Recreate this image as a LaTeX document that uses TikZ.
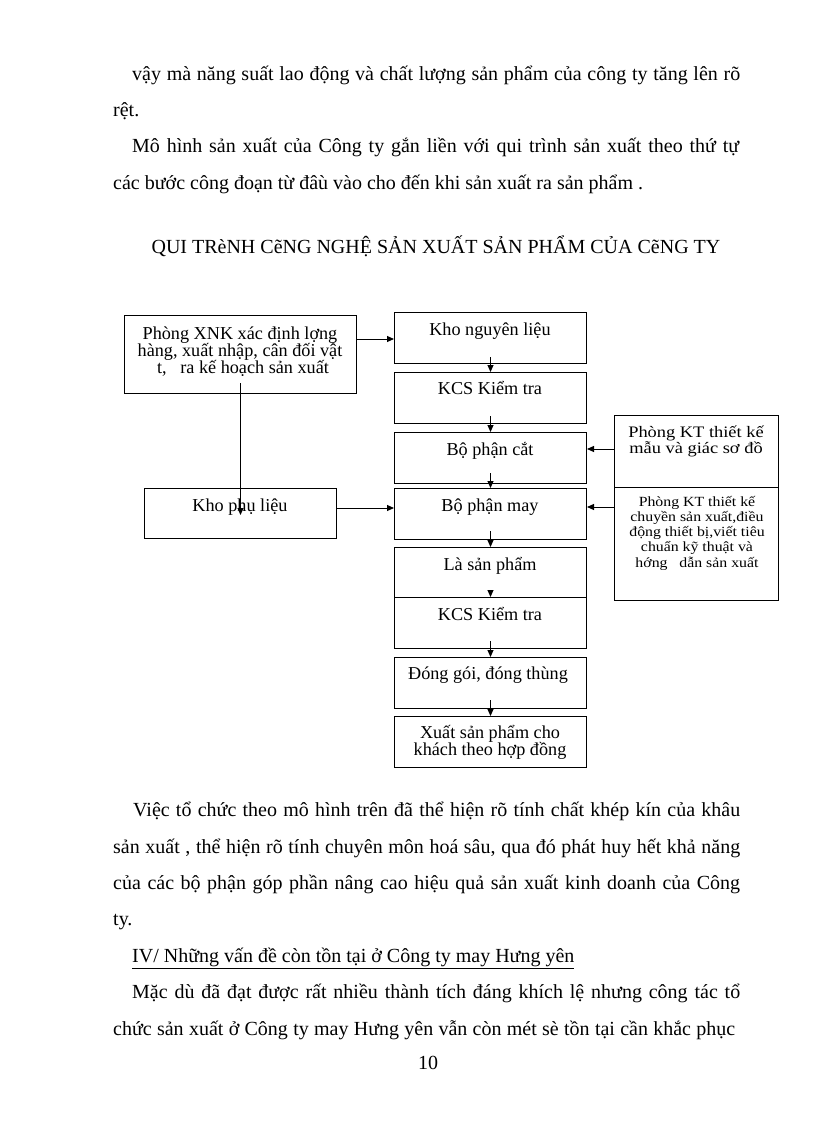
\documentclass[tikz,border=0pt]{standalone}
\usepackage{fontspec}
\setmainfont{Liberation Serif}
\newfontfamily\vnstretchA[FakeStretch=1.15]{Liberation Serif}
\newfontfamily\vnstretchB[FakeStretch=1.13]{Liberation Serif}
\usetikzlibrary{arrows.meta}
\newcommand{\bodyfont}{\fontsize{20}{20}\selectfont}
\newcommand{\diafont}{\fontsize{18.2}{18.2}\selectfont}
\newcommand{\ktafont}{\vnstretchA\fontsize{16}{16}\selectfont}
\newcommand{\ktbfont}{\vnstretchB\fontsize{14}{14}\selectfont}
\tikzset{
  box/.style={draw=black, line width=1pt, inner sep=0pt, anchor=north west},
  dtxt/.style={inner sep=0pt, anchor=base, font=\diafont},
  katxt/.style={inner sep=0pt, anchor=base, font=\ktafont},
  kbtxt/.style={inner sep=0pt, anchor=base, font=\ktbfont},
  body/.style={inner sep=0pt, anchor=base west, font=\bodyfont},
  arr/.style={line width=1pt, -{Triangle[length=7pt,width=6pt]}},
}
\begin{document}
\begin{tikzpicture}[x=1pt,y=-1pt]
\useasboundingbox (0,0) rectangle (816,1123);
\fill[white] (0,0) rectangle (816,1123);

% ---- top text ----
\node[body] (p1) at (132,81) {\makebox[608pt][s]{vậy mà năng suất lao động và chất lượng sản phẩm của công ty tăng lên rõ}};
\node[body] (p2) at (113,117) {rệt.};
\node[body] (p3) at (132,153) {\makebox[607pt][s]{Mô hình sản xuất của Công ty gắn liền với qui trình sản xuất theo thứ tự}};
\node[body] (p4) at (113,190) {các bước công đoạn từ đâù vào cho đến khi sản xuất ra sản phẩm .};
\node[inner sep=0pt, anchor=base, font=\bodyfont] (title) at (436,253) {QUI TRèNH CẽNG NGHỆ SẢN XUẤT SẢN PHẨM CỦA CẽNG TY};

% ---- boxes ----
\node[box, minimum width=232pt, minimum height=78pt] (xnk) at (124,315) {};
\node[box, minimum width=192pt, minimum height=51pt] (nl) at (394,312) {};
\node[box, minimum width=192pt, minimum height=51pt] (kcsa) at (394,372) {};
\node[box, minimum width=192pt, minimum height=51pt] (cat) at (394,432) {};
\node[box, minimum width=192pt, minimum height=51pt] (may) at (394,488) {};
\node[box, minimum width=192pt, minimum height=50pt] (kpl) at (144,488) {};
\node[box, minimum width=192pt, minimum height=50pt] (lsp) at (394,547) {};
\node[box, minimum width=192pt, minimum height=51pt] (kcsb) at (394,597) {};
\node[box, minimum width=192pt, minimum height=51pt] (dg) at (394,657) {};
\node[box, minimum width=192pt, minimum height=51pt] (xsp) at (394,716) {};
\node[box, minimum width=164pt, minimum height=72pt] (ktm) at (614,415) {};
\node[box, minimum width=164pt, minimum height=113pt] (ktc) at (614,487) {};

% ---- box texts ----
\node[dtxt] (xnk1) at (240,339) {Phòng XNK xác định lợng};
\node[dtxt] (xnk2) at (240,356) {hàng, xuất nhập, cân đối vật};
\node[dtxt] (xnk3) at (243,373) {t,\ \ \ ra kế hoạch sản xuất};
\node[dtxt] (nlt) at (490,335) {Kho nguyên liệu};
\node[dtxt] (kcsat) at (490,394) {KCS Kiểm tra};
\node[dtxt] (catt) at (490,455) {Bộ phận cắt};
\node[dtxt] (mayt) at (490,511) {Bộ phận may};
\node[dtxt] (kplt) at (240,511) {Kho phụ liệu};
\node[dtxt] (lspt) at (490,570) {Là sản phẩm};
\node[dtxt] (kcsbt) at (490,620) {KCS Kiểm tra};
\node[dtxt] (dgt) at (488,679) {Đóng gói, đóng thùng};
\node[dtxt] (xsp1) at (490,738) {Xuất sản phẩm cho};
\node[dtxt] (xsp2) at (490,755) {khách theo hợp đồng};
\node[katxt] (ktm1) at (696,437) {Phòng KT thiết kế};
\node[katxt] (ktm2) at (696,453) {mẫu và giác sơ đồ};
\node[kbtxt] (ktc1) at (697,506) {Phòng KT thiết kế};
\node[kbtxt] (ktc2) at (697,521) {chuyền sản xuất,điều};
\node[kbtxt] (ktc3) at (697,536) {động thiết bị,viết tiêu};
\node[kbtxt] (ktc4) at (697,551.5) {chuẩn kỹ thuật và};
\node[kbtxt] (ktc5) at (697,567) {hớng\ \ \ dẫn sản xuất};

% ---- connectors ----
\coordinate (h1) at (0,339);
\coordinate (h2) at (0,508);
\coordinate (h3) at (0,449);
\coordinate (h4) at (0,507);
\draw[arr] (xnk.east |- h1) -- (nl.west |- h1);
\draw[arr] (kpl.east |- h2) -- (may.west |- h2);
\draw[arr] (ktm.west |- h3) -- (cat.east |- h3);
\draw[arr] (ktc.west |- h4) -- (may.east |- h4);
\draw[arr] ([yshift=11pt]xnk.south) -- ([yshift=-27pt]kpl.north);
\draw[arr] ([yshift=7pt]nl.south) -- (kcsa.north);
\draw[arr] ([yshift=8pt]kcsa.south) -- (cat.north);
\draw[arr] ([yshift=11pt]cat.south) -- (may.north);
\draw[arr] ([yshift=9pt]may.south) -- (lsp.north);
\draw[arr] ([yshift=8pt]lsp.south) -- (kcsb.north);
\draw[arr] ([yshift=8pt]kcsb.south) -- (dg.north);
\draw[arr] ([yshift=9pt]dg.south) -- (xsp.north);

% ---- bottom text ----
\node[body] (q1) at (133,816) {\makebox[607pt][s]{Việc tổ chức theo mô hình trên đã thể hiện rõ tính chất khép kín của khâu}};
\node[body] (q2) at (113,853) {\makebox[627pt][s]{sản xuất , thể hiện rõ tính chuyên môn hoá sâu, qua đó phát huy hết khả năng}};
\node[body] (q3) at (113,889) {\makebox[627pt][s]{của các bộ phận góp phần nâng cao hiệu quả sản xuất kinh doanh của Công}};
\node[body] (q4) at (113,925) {ty.};
\node[body] (q5) at (132,962) {\underline{IV/ Những vấn đề còn tồn tại ở Công ty may Hưng yên}};
\node[body] (q6) at (132,998) {\makebox[608pt][s]{Mặc dù đã đạt được rất nhiều thành tích đáng khích lệ nhưng công tác tổ}};
\node[body] (q7) at (113,1035) {\makebox[622pt][s]{chức sản xuất ở Công ty may Hưng yên vẫn còn mét sè tồn tại cần khắc phục}};
\node[inner sep=0pt, anchor=base, font=\bodyfont] (pg) at (428,1069) {10};
\end{tikzpicture}
\end{document}
